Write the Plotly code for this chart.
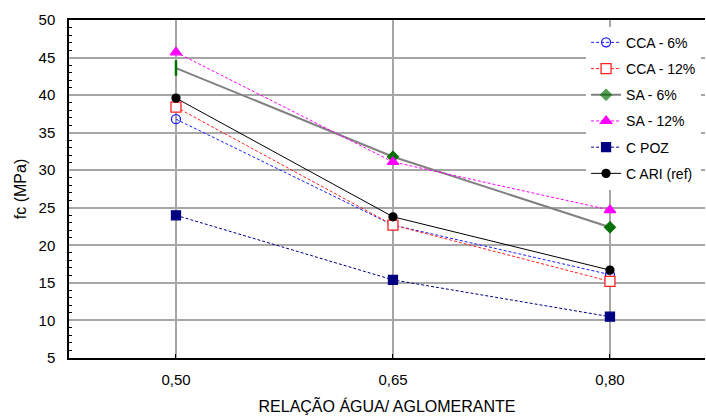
import plotly.graph_objects as go

categories = ["0,50", "0,65", "0,80"]
cca6 = [36.8, 22.7, 16.1]
cca12 = [38.4, 22.7, 15.2]
sa6 = [43.6, 31.8, 22.4]
sa12 = [45.7, 31.1, 24.7]
cpoz = [24.0, 15.4, 10.5]
cari = [39.6, 23.8, 16.7]

xi = list(range(len(categories)))
FONT = "Arial, Liberation Sans, sans-serif"

fig = go.Figure()

def add(name, y, lcolor, lwidth, dash, symbol, msize, mfill, mline, group,
        showlegend=True):
    fig.add_trace(go.Scatter(
        x=xi, y=y, name=name, mode="lines+markers", legendgroup=group,
        showlegend=showlegend,
        line=dict(color=lcolor, width=lwidth, dash=dash),
        marker=dict(symbol=symbol, size=msize, color=mfill,
                    line=dict(color=mline, width=1.3)),
    ))

add("CCA - 6%", cca6, "#1f1fff", 1, "3px,2px", "circle-open", 9, "#1f1fff", "#1f1fff", "a")
add("CCA - 12%", cca12, "#ff2020", 1, "3px,2px", "square", 10, "white", "#ff2020", "b")
# SA - 6%: first marker is rendered as a thin vertical green bar in the reference
fig.add_trace(go.Scatter(
    x=xi, y=sa6, name="SA - 6%", mode="lines+markers", legendgroup="c",
    line=dict(color="#808080", width=2),
    marker=dict(symbol="diamond", size=[9, 9, 9], color="#007000",
                opacity=[0, 1, 1], line=dict(color="#007000", width=1)),
))
fig.add_trace(go.Scatter(x=xi[:1], y=sa6[:1], mode="markers", showlegend=False,
                         marker=dict(symbol="line-ns", size=11,
                                     line=dict(color="#007000", width=2.5))))
add("SA - 12%", sa12, "#ff00ff", 1, "3px,2px", "triangle-up", 10, "#ff00ff", "#ff00ff", "d")
add("C POZ", cpoz, "#000080", 1, "3px,2px", "square", 9, "#000080", "#000080", "e")
add("C ARI (ref)", cari, "#000000", 1, "solid", "circle", 8, "#000000", "#000000", "f")

fig.update_layout(
    width=706, height=416,
    margin=dict(l=69, r=1, t=20, b=58),
    paper_bgcolor="white", plot_bgcolor="white",
    font=dict(family=FONT, size=15, color="#000000"),
    legend=dict(x=0.813, y=0.98, xanchor="left", yanchor="top",
                bgcolor="white", borderwidth=0, tracegroupgap=5,
                font=dict(family=FONT, size=14, color="#000000")),
    xaxis=dict(
        range=[-0.493, 2.438], tickmode="array", tickvals=xi, ticktext=categories,
        showgrid=True, gridcolor="#a6a6a6", gridwidth=2,
        showline=True, linecolor="#000000", linewidth=1.5, mirror=True,
        ticks="inside", ticklen=4, tickcolor="#000000", zeroline=False,
        ticklabelstandoff=7,
        title=dict(text="RELAÇÃO ÁGUA/ AGLOMERANTE", standoff=14,
                   font=dict(family=FONT, size=16)),
        tickfont=dict(family=FONT, size=15),
    ),
    yaxis=dict(
        range=[5, 50], tickmode="linear", tick0=5, dtick=5,
        showgrid=True, gridcolor="#a6a6a6", gridwidth=2,
        showline=True, linecolor="#000000", linewidth=1.5,
        ticks="", zeroline=False, ticklabelstandoff=9,
        minor=dict(ticks="inside", dtick=1, ticklen=3, tickcolor="#000000", showgrid=False),
        title=dict(text="fc (MPa)", standoff=8, font=dict(family=FONT, size=16)),
        tickfont=dict(family=FONT, size=15),
    ),
)

fig.write_html("out.html")
